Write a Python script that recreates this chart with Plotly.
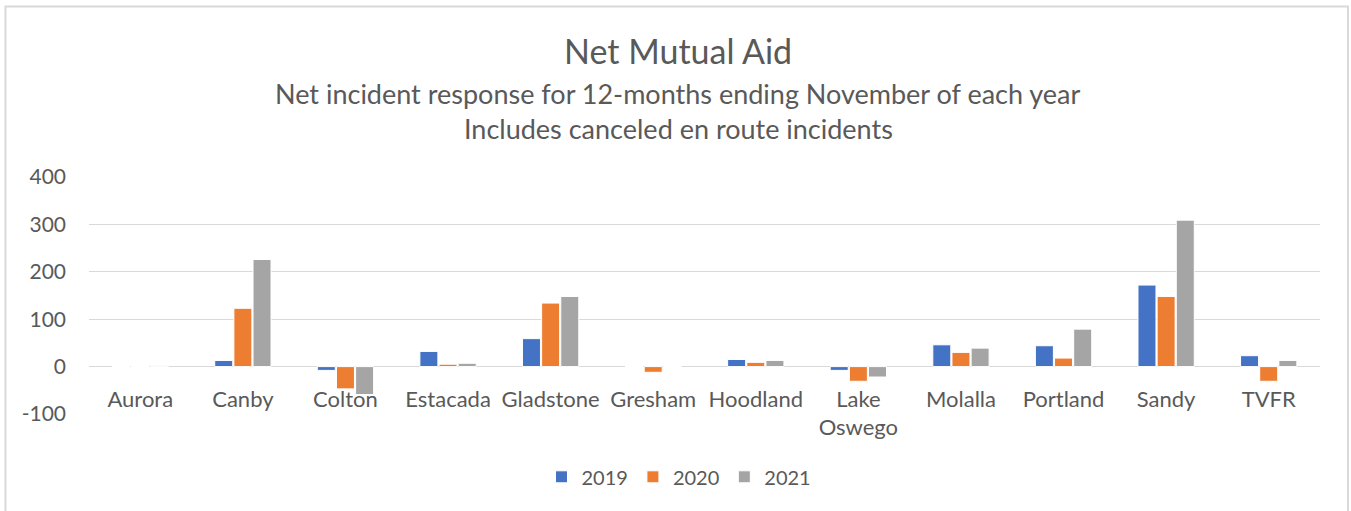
import plotly.graph_objects as go

categories = ["Aurora", "Canby", "Colton", "Estacada", "Gladstone", "Gresham",
              "Hoodland", "Lake<br>Oswego", "Molalla", "Portland", "Sandy", "TVFR"]
years = ["2019", "2020", "2021"]
values_2019 = [0, 13, -8, 32, 59, 0, 15, -8, 46, 44, 172, 23]
values_2020 = [0, 123, -47, 5, 134, -12, 9, -31, 30, 18, 148, -31]
values_2021 = [2, 226, -59, 7, 148, 0, 13, -22, 39, 79, 309, 13]
colors = ["#4472C4", "#ED7D31", "#A5A5A5"]
y_ticks = [-100, 0, 100, 200, 300, 400]
y_tick_text = ["-100", "0", "100", "200", "300", "400"]

TEXT = "#595959"
FONT = "Lato"

fig = go.Figure()
for name, vals, col in zip(years, [values_2019, values_2020, values_2021], colors):
    fig.add_trace(go.Bar(x=categories, y=vals, name=name,
                         marker=dict(color=col, line=dict(color="white", width=1))))

fig.update_layout(
    width=1351, height=511,
    margin=dict(l=89, r=31, t=177, b=97, autoexpand=False),
    paper_bgcolor="white", plot_bgcolor="white",
    barmode="group", bargap=0.44, bargroupgap=0.06,
    font=dict(family=FONT, color=TEXT, size=20),
    showlegend=True,
    legend=dict(orientation="h", x=(679 - 89) / 1231, xanchor="center", y=-0.265, yanchor="middle",
                font=dict(size=20, color=TEXT), traceorder="normal"),
    xaxis=dict(anchor="free", position=0.2, showline=False, showgrid=False,
               ticks="", tickfont=dict(size=22, color=TEXT), ticklabelstandoff=17),
    yaxis=dict(range=[-100, 400], tickvals=y_ticks, ticktext=y_tick_text,
               showgrid=True, gridcolor="#D9D9D9",
               gridwidth=1, zeroline=False, showline=False, ticks="",
               tickfont=dict(size=21, color=TEXT), ticklabelstandoff=22),
)

# Titles
cx = (678 - 89) / 1231
fig.add_annotation(text="Net Mutual Aid", xref="paper", yref="paper", x=cx, y=(414 - 50) / 237,
                   xanchor="center", yanchor="middle", showarrow=False,
                   font=dict(size=34, color=TEXT, family=FONT))
fig.add_annotation(text="Net incident response for 12-months ending November of each year",
                   xref="paper", yref="paper", x=cx, y=(414 - 93) / 237,
                   xanchor="center", yanchor="middle", showarrow=False,
                   font=dict(size=27, color=TEXT, family=FONT))
fig.add_annotation(text="Includes canceled en route incidents",
                   xref="paper", yref="paper", x=cx, y=(414 - 128) / 237,
                   xanchor="center", yanchor="middle", showarrow=False,
                   font=dict(size=27, color=TEXT, family=FONT))

# Chart border
fig.add_shape(type="rect", xref="paper", yref="paper",
              x0=(5.5 - 89) / 1231, x1=(1348 - 89) / 1231,
              y0=(414 - 515) / 237, y1=(414 - 6.5) / 237,
              line=dict(color="#D9D9D9", width=2), layer="below")

fig.write_html("out.html", config={"displayModeBar": False},
               post_script="document.body.style.margin='0';")
